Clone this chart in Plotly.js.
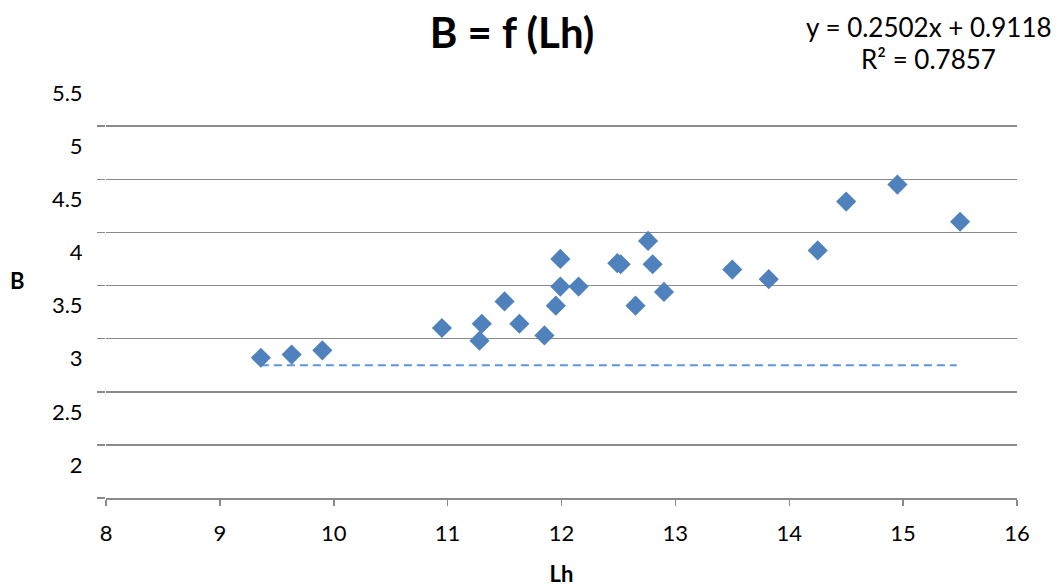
<!DOCTYPE html>
<html>
<head>
<meta charset="utf-8">
<script src="https://cdn.plot.ly/plotly-3.0.1.min.js"></script>
<style>html,body{margin:0;padding:0;background:#fff;}#chart{width:1056px;height:587px;}</style>
</head>
<body>
<div id="chart"></div>
<script>
// Data
const lhValues = [9.36, 9.63, 9.90, 10.95, 11.28, 11.30, 11.50, 11.63, 11.85, 11.95, 11.99, 11.99, 12.15, 12.49, 12.52, 12.65, 12.76, 12.80, 12.90, 13.50, 13.82, 14.25, 14.50, 14.95, 15.50];
const bValues  = [3.32, 3.35, 3.39, 3.60, 3.48, 3.64, 3.85, 3.64, 3.53, 3.81, 4.25, 3.99, 3.99, 4.21, 4.20, 3.81, 4.42, 4.20, 3.94, 4.15, 4.06, 4.33, 4.79, 4.95, 4.60];
const trendX = [9.36, 15.47];
const trendY = [3.25, 3.25];
const xTicks = [8, 9, 10, 11, 12, 13, 14, 15, 16];
const yTicks = [2, 2.5, 3, 3.5, 4, 4.5, 5, 5.5];
const titleText = 'B = f (Lh)';
const equationText = 'y = 0.2502x + 0.9118';
const r2Text = 'R² = 0.7857';

const FONT = 'Lato, "Open Sans", sans-serif';
const GRID = '#8a8a8a';

const traces = [
  {
    x: trendX, y: trendY, type: 'scatter', mode: 'lines',
    line: {color: '#5f95dc', width: 2, dash: '8px,5px'},
    hoverinfo: 'skip', showlegend: false
  },
  {
    x: lhValues, y: bValues, type: 'scatter', mode: 'markers',
    marker: {symbol: 'diamond', size: 15.5, color: '#4f81bd', line: {width: 0}},
    showlegend: false
  }
];

const layout = {
  width: 1056, height: 587,
  margin: {l: 106, r: 39, t: 73, b: 89},
  paper_bgcolor: '#ffffff', plot_bgcolor: '#ffffff',
  font: {family: FONT, size: 22, color: '#000000'},
  showlegend: false,
  title: {
    text: '<b>' + titleText + '</b>',
    font: {family: FONT, size: 42, color: '#000000'},
    x: 0.4457, xref: 'paper', xanchor: 'center',
    y: 0.944, yref: 'container', yanchor: 'middle'
  },
  xaxis: {
    range: [8, 16], tickvals: xTicks,
    showgrid: false, zeroline: false,
    showline: true, linecolor: GRID, linewidth: 1.5,
    ticks: 'outside', ticklen: 6, tickwidth: 1.5, tickcolor: GRID,
    ticklabelstandoff: 9,
    tickfont: {family: FONT, size: 22, color: '#000000'},
    title: {text: '<b>Lh</b>', font: {family: FONT, size: 22, color: '#000000'}, standoff: 22},
    automargin: false, fixedrange: true
  },
  yaxis: {
    range: [2, 6], tickvals: yTicks,
    showgrid: true, gridcolor: GRID, gridwidth: 1.5,
    zeroline: false, showline: false,
    ticks: 'outside', ticklen: 8, tickwidth: 1.5, tickcolor: GRID,
    ticklabelshift: -33, ticklabelstandoff: 10,
    tickfont: {family: FONT, size: 22, color: '#000000'},
    automargin: false, fixedrange: true
  },
  annotations: [
    {text: equationText, xref: 'paper', yref: 'paper', x: 0.9034, y: 1.108,
     xanchor: 'center', yanchor: 'middle', showarrow: false,
     font: {family: FONT, size: 26, color: '#000000'}},
    {text: r2Text, xref: 'paper', yref: 'paper', x: 0.9034, y: 1.032,
     xanchor: 'center', yanchor: 'middle', showarrow: false,
     font: {family: FONT, size: 26, color: '#000000'}},
    {text: '<b>B</b>', xref: 'paper', yref: 'paper', x: -0.0966, y: 0.5125,
     xanchor: 'center', yanchor: 'middle', showarrow: false,
     font: {family: FONT, size: 22, color: '#000000'}}
  ]
};

Plotly.newPlot('chart', traces, layout, {staticPlot: true, displayModeBar: false});
</script>
</body>
</html>
